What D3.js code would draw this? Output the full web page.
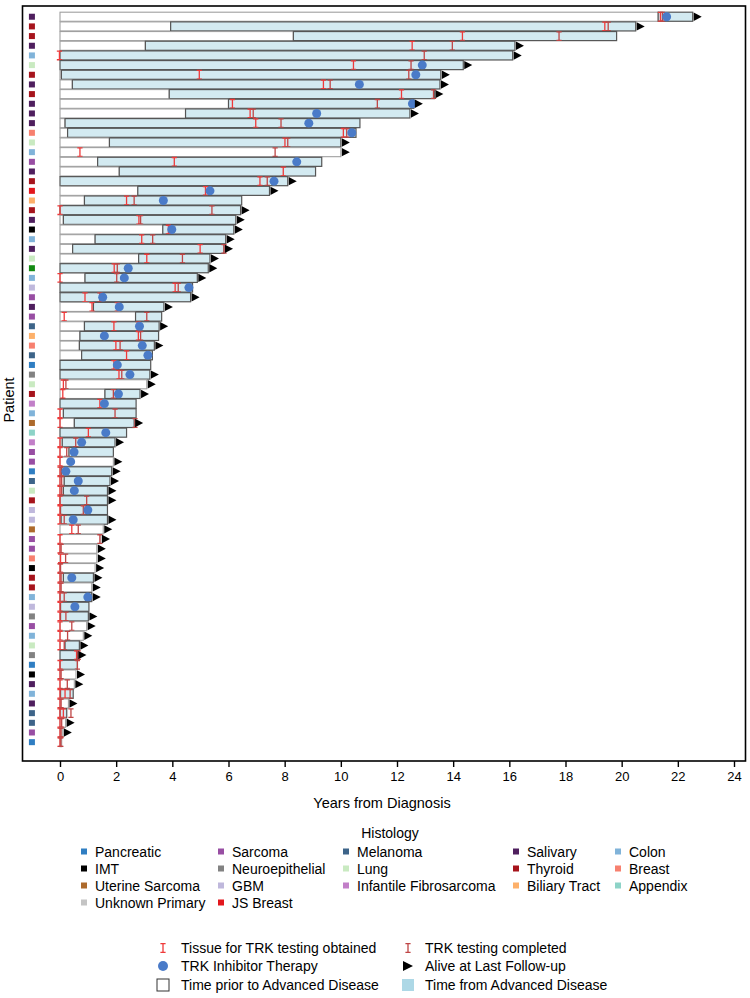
<!DOCTYPE html>
<html><head><meta charset="utf-8">
<script src="https://cdn.jsdelivr.net/npm/d3@7"></script>
<style>body{margin:0;background:#fff}text{font-family:"Liberation Sans",Arial,sans-serif;}</style>
</head><body>
<script>
// ---------- DATA ----------
const patients = d3.range(1, 77);
const histology = ["Salivary","Thyroid","Thyroid","Salivary","Colon","Lung","Thyroid","Salivary","Thyroid","Salivary",
"Salivary","Salivary","Breast","Lung","Colon","Sarcoma","Salivary","Thyroid","JS Breast","Biliary Tract",
"Thyroid","Salivary","IMT","Colon","Salivary","Lung","Other","Colon","GBM","Sarcoma",
"Salivary","Sarcoma","Melanoma","Biliary Tract","Breast","Melanoma","Pancreatic","Neuroepithelial","Lung","Thyroid",
"Infantile Fibrosarcoma","Colon","Uterine Sarcoma","Appendix","Infantile Fibrosarcoma","Sarcoma","Sarcoma","Pancreatic","Melanoma","Lung",
"Thyroid","GBM","GBM","Uterine Sarcoma","Sarcoma","Sarcoma","Breast","IMT","Thyroid","Thyroid",
"Colon","GBM","Neuroepithelial","Sarcoma","Colon","Lung","Neuroepithelial","Pancreatic","IMT","Salivary",
"Colon","Salivary","Melanoma","Melanoma","Sarcoma","Pancreatic"];
// start of advanced disease (years); null = never advanced during follow-up
const advStart = [21.3,3.94,8.31,3.04,0,0,0.05,0.44,3.89,6.0,
4.47,0.18,0.27,1.76,null,1.34,2.11,0,2.77,0.87,
0,0.12,3.66,1.25,0.45,2.8,0,0.89,0,0,
1.19,2.69,0.87,0.71,0.69,0.77,0,0,null,1.6,
0,0.12,0.51,0,0.08,0.32,null,0.06,0.15,0.12,
0,0.02,0.04,null,null,null,null,null,0.12,null,
0,0.02,0.02,null,null,0.18,0,0,null,null,
0.02,null,0,null,null,null];
const followUp = [22.53,20.5,19.82,16.2,16.12,14.36,13.56,13.53,13.33,12.6,
12.46,10.68,10.54,10.0,10.0,9.32,9.1,8.11,7.46,6.47,
6.43,6.26,6.19,5.9,5.84,5.34,5.28,4.89,4.72,4.65,
3.7,3.62,3.53,3.51,3.36,3.29,3.23,3.2,3.09,2.85,
2.71,2.71,2.64,2.37,1.96,1.9,1.9,1.84,1.78,1.69,
1.69,1.69,1.69,1.54,1.46,1.31,1.31,1.25,1.19,1.13,
1.13,1.03,1.01,0.95,0.83,0.69,0.62,0.62,0.57,0.51,
0.47,0.3,0.24,0.2,0.1,0.06];
const alive = [1,1,0,1,1,1,1,1,1,1,
1,0,0,1,1,0,0,1,1,0,
1,1,1,1,1,1,1,1,0,1,
1,0,1,0,1,0,0,1,1,1,
0,0,1,0,1,0,1,1,1,1,
1,0,1,1,1,1,1,1,1,1,
1,0,1,1,1,1,1,0,1,1,
0,1,0,1,1,0];
const tissueObtained = [[21.38],[19.4],[14.33],[12.54],[-0.02],[10.45],[4.96],[9.38],[12.16],[6.14],
[6.77],[6.97],[10.09],[8.01],[0.71],[4.07],[7.95],[7.12],[5.18],[2.37],
[0],[2.81],[3.86],[2.91],[4.99],[3.09],[1.93],[0],[4.1],[0.89],
[1.14],[0.15],[1.92],[2.79],[1.99],[2.37],[1.92],[2.1],[0.12],[0.1],
[1.42],[0],[0],[1.01],[0],[0],[0],[0],[0],[0],
[0],[0],[0],[0.42],[0],[0],[0.02],[0],[0],[0],
[0],[0],[0],[0],[0],[0],[0.59],[0],[0],[0],
[0,0.18],[0],[0,0.12],[0],[0],[0]];
const testingCompleted = [[21.45],[19.52],[17.77],[13.97],[12.97],[12.5],[12.42],[9.62],[13.3],[11.3],
[6.88],[7.87],[10.21],[8.11],[7.66],[],[],[7.38],[],[2.64],
[5.41],[2.87],[],[3.3],[5.84],[4.36],[2.04],[2.02],[4.21],[1.42],
[2.04],[3.09],[2.79],[2.87],[2.14],[],[],[2.2],[0.21],[1.9],
[],[1.96],[2.67],[],[0.56],[0.24],[],[0.04],[0.06],[0.06],
[0.95],[0.83],[0.15],[0.65],[1.42],[0.04],[0.2],[0.02],[0.04],[0.04],
[0.15],[],[0.21],[0.42],[0.27],[0.15],[0.65],[0.62],[0.04],[0.26],
[0.36],[0.04],[0.39],[0.06],[0.04],[0.03]];
const trkStart = [21.6,null,null,null,null,12.9,12.67,10.66,null,12.55,
9.14,8.86,10.39,null,null,8.43,null,7.62,5.34,3.68,
null,null,3.98,null,null,null,2.43,2.29,4.59,1.52,
2.11,null,2.83,1.58,2.93,3.13,2.04,2.49,null,2.08,
1.58,null,null,1.63,0.77,0.5,0.38,0.21,0.65,0.51,
null,0.99,0.47,null,null,null,null,null,0.42,null,
0.99,0.53,null,null,null,null,null,null,null,null,
null,null,null,null,null,null];
const xTicks = [0,2,4,6,8,10,12,14,16,18,20,22,24];
const legendHistology = [
 ["Pancreatic","IMT","Uterine Sarcoma","Unknown Primary"],
 ["Sarcoma","Neuroepithelial","GBM","JS Breast"],
 ["Melanoma","Lung","Infantile Fibrosarcoma"],
 ["Salivary","Thyroid","Biliary Tract"],
 ["Colon","Breast","Appendix"]];
const histColors = {
 "Pancreatic":"#2f7ec2","IMT":"#000000","Uterine Sarcoma":"#ad6a2c","Unknown Primary":"#c4c4c4",
 "Sarcoma":"#984ea3","Neuroepithelial":"#828282","GBM":"#bfb8dc","JS Breast":"#e3171d",
 "Melanoma":"#3d6489","Lung":"#c9eac1","Infantile Fibrosarcoma":"#c27fc8",
 "Salivary":"#4f1f5e","Thyroid":"#a6141c","Biliary Tract":"#fdb06a",
 "Colon":"#80b3d9","Breast":"#f7806f","Appendix":"#8dd3c7","Other":"#138a13"};

// ---------- CHART ----------
const W = 750, H = 998;
const svg = d3.select("body").append("svg").attr("width", W).attr("height", H);
const x = d3.scaleLinear().domain([0, 24]).range([60, 734]);
const y = d3.scaleBand().domain(patients).range([11.9, 747]).paddingInner(0);
const bh = y.bandwidth() - 0.6;
const TISSUE = "#ef3a3a", TEST = "#bf4646", DOT = "#4a7bc8", ADV = "#d3eaf1";

const rows = patients.map((p, i) => ({
  p, h: histology[i], adv: advStart[i], end: followUp[i], alive: alive[i],
  tissue: tissueObtained[i], test: testingCompleted[i], trk: trkStart[i]}));

// frame
svg.append("rect").attr("x", 22.5).attr("y", 6).attr("width", 723).attr("height", 755)
  .attr("fill", "none").attr("stroke", "#000").attr("stroke-width", 1.6);

const g = svg.append("g");
const row = g.selectAll("g.row").data(rows).join("g").attr("class", "row")
  .attr("transform", d => `translate(0,${y(d.p) + y.bandwidth() / 2})`);

// histology squares
row.append("rect").attr("x", x(-1) - 3).attr("y", -3).attr("width", 6).attr("height", 6)
  .attr("fill", d => histColors[d.h]);

// white (prior to advanced disease)
row.append("rect")
  .attr("x", x(0))
  .attr("y", -bh / 2).attr("height", bh)
  .attr("width", d => Math.max(0, x(d.adv == null ? d.end : d.adv) - x(0)))
  .attr("fill", "#fff").attr("stroke", "#a0a0a0").attr("stroke-width", 1.1);

// blue (from advanced disease)
row.filter(d => d.adv != null).append("rect")
  .attr("x", d => x(d.adv))
  .attr("y", -bh / 2).attr("height", bh)
  .attr("width", d => Math.max(0, x(d.end) - x(d.adv)))
  .attr("fill", ADV).attr("stroke", "#555").attr("stroke-width", 1.2);

function iMarker(sel, color) {
  sel.append("path")
    .attr("d", "M-2.6,-4.3H2.6M0,-4.3V4.3M-2.6,4.3H2.6")
    .attr("stroke", color).attr("stroke-width", 1.3).attr("fill", "none");
}
row.each(function(d) {
  const r = d3.select(this);
  d.tissue.forEach(t => iMarker(r.append("g").attr("transform", `translate(${x(t)},0)`), TISSUE));
  d.test.forEach(t => iMarker(r.append("g").attr("transform", `translate(${x(t)},0)`), TEST));
});

// TRK therapy dots
row.filter(d => d.trk != null).append("circle")
  .attr("cx", d => x(d.trk)).attr("r", 4.5).attr("fill", DOT);

// alive triangles
row.filter(d => d.alive).append("path")
  .attr("d", d => { const e = x(d.end) + 1; return `M${e},-4.2L${e + 8},0L${e},4.2Z`; })
  .attr("fill", "#000");

// x axis
const axis = svg.append("g").attr("transform", "translate(0,761)")
  .call(d3.axisBottom(x).tickValues(xTicks).tickSize(6).tickPadding(5).tickFormat(d3.format("d")));
axis.select(".domain").remove();
axis.selectAll("line").attr("stroke", "#000").attr("stroke-width", 1.4);
axis.selectAll("text").attr("font-size", 13).attr("fill", "#000")
  .style("font-family", '"Liberation Sans Narrow","Liberation Sans",Arial,sans-serif');

svg.append("text").attr("x", 382).attr("y", 808).attr("text-anchor", "middle")
  .attr("font-size", 14.5).text("Years from Diagnosis");
svg.append("text").attr("transform", "translate(14,400) rotate(-90)").attr("text-anchor", "middle")
  .attr("font-size", 14.5).text("Patient");

// histology legend
svg.append("text").attr("x", 390).attr("y", 838).attr("text-anchor", "middle")
  .attr("font-size", 14).text("Histology");
const colX = [95, 232, 357, 527, 629];
legendHistology.forEach((col, ci) => {
  col.forEach((name, ri) => {
    const yy = 852 + ri * 17;
    svg.append("rect").attr("x", colX[ci] - 14).attr("y", yy - 3.5).attr("width", 6).attr("height", 6)
      .attr("fill", histColors[name]);
    svg.append("text").attr("x", colX[ci]).attr("y", yy + 5).attr("font-size", 14).text(name);
  });
});

// event legend
const lx1 = 163, lx2 = 408, tx1 = 181, tx2 = 425;
const ly = [948, 966, 985];
iMarker(svg.append("g").attr("transform", `translate(${lx1},${ly[0]})`), TISSUE);
iMarker(svg.append("g").attr("transform", `translate(${lx2},${ly[0]})`), TEST);
svg.append("circle").attr("cx", lx1).attr("cy", ly[1]).attr("r", 5).attr("fill", DOT);
svg.append("path").attr("d", `M${lx2 - 5},${ly[1] - 5}L${lx2 + 5},${ly[1]}L${lx2 - 5},${ly[1] + 5}Z`).attr("fill", "#000");
svg.append("rect").attr("x", lx1 - 6).attr("y", ly[2] - 6).attr("width", 12).attr("height", 12)
  .attr("fill", "#fff").attr("stroke", "#333").attr("stroke-width", 1);
svg.append("rect").attr("x", lx2 - 6).attr("y", ly[2] - 6).attr("width", 12).attr("height", 12)
  .attr("fill", "#add8e6");
[["Tissue for TRK testing obtained", tx1, ly[0]], ["TRK testing completed", tx2, ly[0]],
 ["TRK Inhibitor Therapy", tx1, ly[1]], ["Alive at Last Follow-up", tx2, ly[1]],
 ["Time prior to Advanced Disease", tx1, ly[2]], ["Time from Advanced Disease", tx2, ly[2]]]
 .forEach(([t, xx, yy]) => svg.append("text").attr("x", xx).attr("y", yy + 5).attr("font-size", 14).text(t));
</script>
</body></html>
